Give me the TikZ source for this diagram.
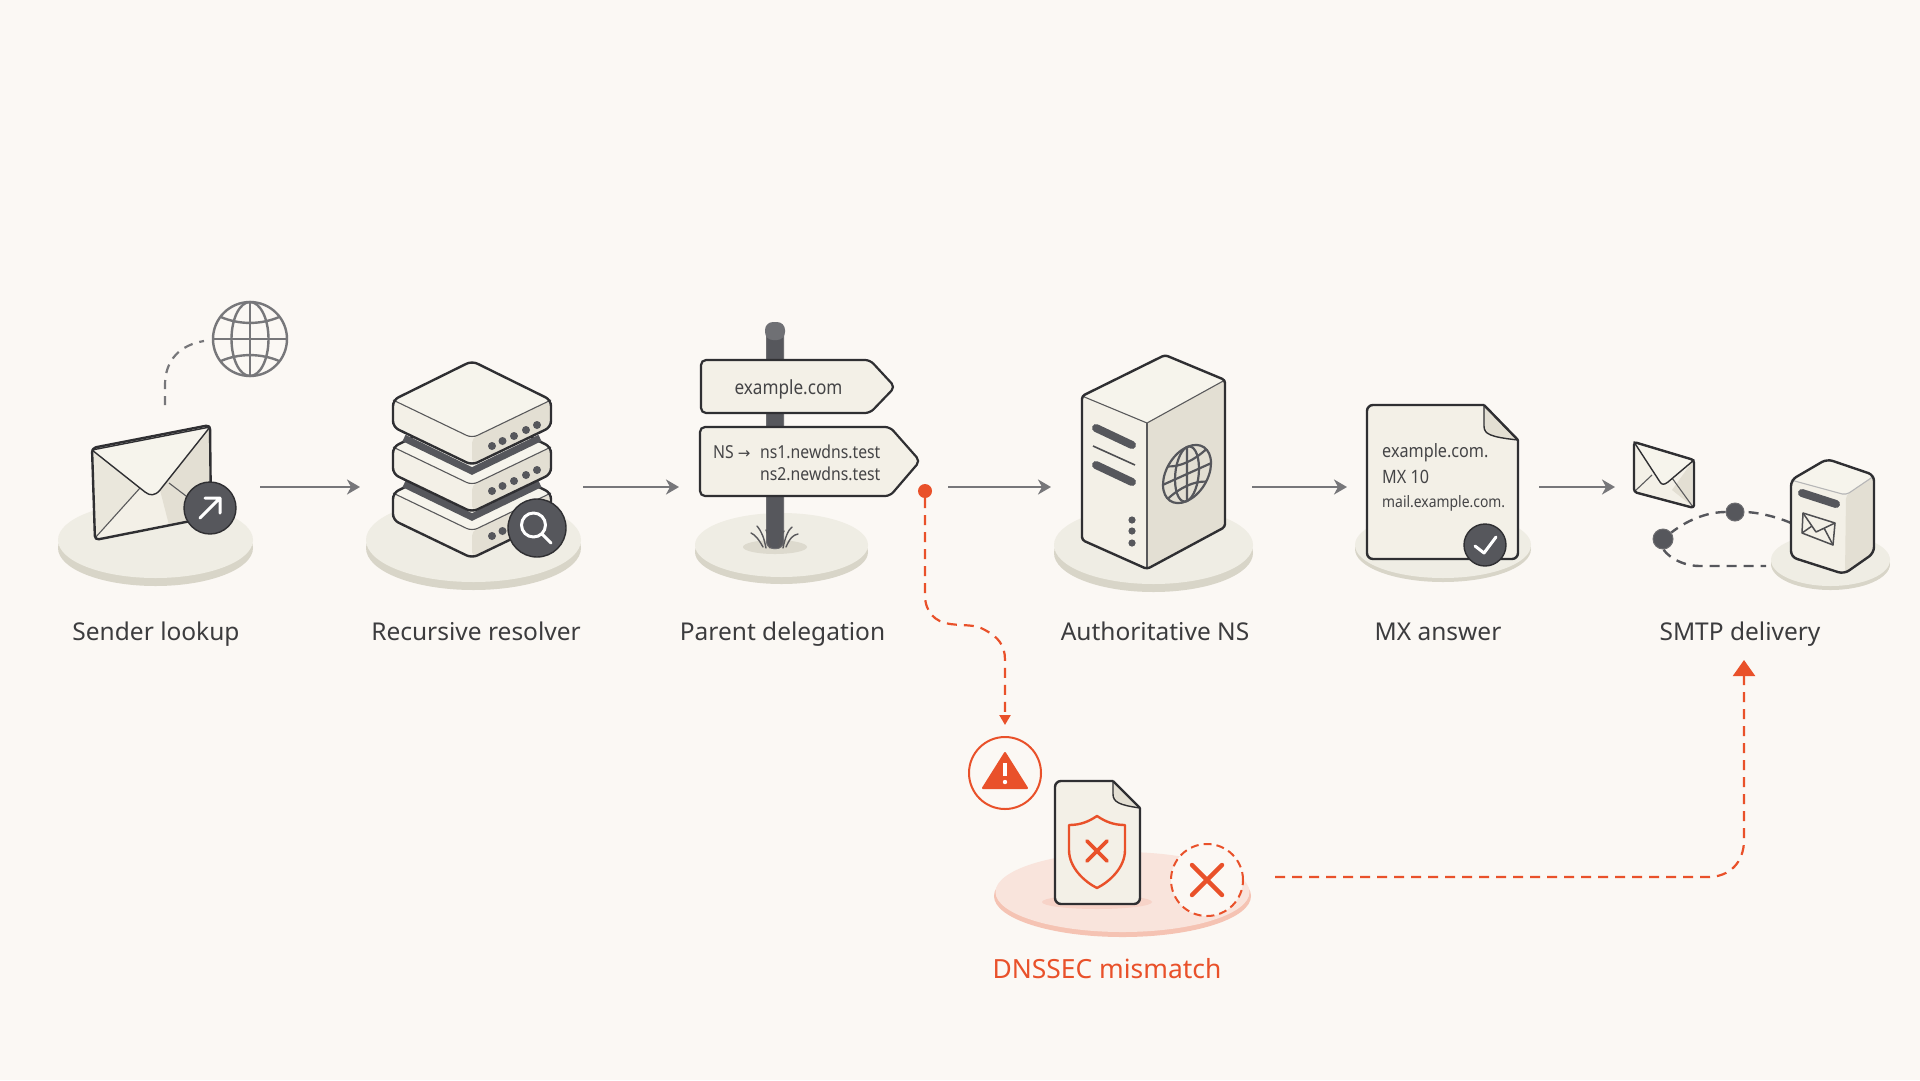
\documentclass[tikz,border=0pt]{standalone}
\usepackage{fontspec}
\setmainfont{Noto Sans}
\newfontfamily\arrowfont{DejaVu Sans}
\newfontfamily\narrowfont[FakeStretch=0.88]{Noto Sans}
\usetikzlibrary{arrows.meta}
\definecolor{bgc}{HTML}{FBF8F4}
\definecolor{discTop}{HTML}{EFEDE4}
\definecolor{discSide}{HTML}{D8D5C8}
\definecolor{faceL}{HTML}{F3F0E7}
\definecolor{faceR}{HTML}{E3DFD3}
\definecolor{faceT}{HTML}{F6F4EC}
\definecolor{ink}{HTML}{2F2F32}
\definecolor{darkc}{HTML}{56575C}
\definecolor{arrowc}{HTML}{77777A}
\definecolor{labelc}{HTML}{3C3C3E}
\definecolor{redc}{HTML}{E9512A}
\tikzset{
  outline/.style={draw=ink,line width=2.4pt,line join=round},
  thinline/.style={draw=ink!80,line width=1.1pt},
  softline/.style={draw=ink!35,line width=1.1pt},
  flowarrow/.style={draw=arrowc,line width=2.4pt,-{Stealth[length=13pt,width=15pt,inset=4pt]}},
  graydash/.style={draw=arrowc,line width=2.2pt,dash pattern=on 9pt off 7pt},
  darkdash/.style={draw=darkc,line width=2.4pt,dash pattern=on 10pt off 7pt},
  reddash/.style={draw=redc,line width=2.2pt,dash pattern=on 10pt off 7pt},
  steplabel/.style={font=\fontsize{24.5}{30}\selectfont,text=labelc,anchor=base,inner sep=0pt},
  signtext/.style={text=ink!90,inner sep=0pt,anchor=base},
  badge/.style={fill=darkc,draw=ink,line width=1.4pt},
  whitemark/.style={draw=white,line width=3pt,line cap=round,line join=round},
  redx/.style={draw=redc,line width=3.6pt,line cap=round},
  globeline/.style={draw=arrowc,line width=2.4pt},
}
\newcommand\platform[5]{% cx cy rx ry thick
  \fill[discSide] ({#1},{#2+#5}) ellipse [x radius=#3pt,y radius=#4pt];
  \fill[discTop] (#1,#2) ellipse [x radius=#3pt,y radius=#4pt];
}
\newcommand\slabbox[2]{% cx ytop
  \path[fill=faceL,rounded corners=6pt] ({#1-79},#2) -- (#1,{#2-39}) -- ({#1+79},#2) -- ({#1+79},{#2+27}) -- (#1,{#2+65}) -- ({#1-79},{#2+27}) -- cycle;
  \path[fill=faceR,rounded corners=5pt] (#1,{#2+38}) -- ({#1+78},{#2+1}) -- ({#1+78},{#2+27}) -- (#1,{#2+64}) -- cycle;
  \path[fill=faceT,rounded corners=6pt] ({#1-79},#2) -- (#1,{#2-39}) -- ({#1+79},#2) -- (#1,{#2+38}) -- cycle;
  \draw[thinline,rounded corners=6pt] ({#1-79},#2) -- (#1,{#2+38}) -- ({#1+79},#2);
  \draw[outline,rounded corners=6pt] ({#1-79},#2) -- (#1,{#2-39}) -- ({#1+79},#2) -- ({#1+79},{#2+27}) -- (#1,{#2+65}) -- ({#1-79},{#2+27}) -- cycle;
}
\newcommand\slabdots[1]{% y offset
  \foreach \dx/\dy in {492/446,502.5/441,514/436,526/430,537/425}
    \fill[darkc] (\dx,{\dy+#1}) circle [radius=4pt];
}
\newcommand\globeicon{%
  \draw (0,0) circle [radius=1];
  \draw (0,-1) -- (0,1) (-1,0) -- (1,0);
  \draw (0,0) ellipse [x radius=.5,y radius=1];
  \draw (-.8,-.6) .. controls (-.3,-.38) and (.3,-.38) .. (.8,-.6);
  \draw (-.8,.6) .. controls (-.3,.38) and (.3,.38) .. (.8,.6);
}
\newcommand\docpage[6]{% L T R B F G
  \path[fill=faceL,rounded corners=6pt] (#1,#2) -- (#5,#2) -- (#3,#6) -- (#3,#4) -- (#1,#4) -- cycle;
  \path[fill=faceR,draw=ink,line width=1.4pt,line join=round] (#5,#2) -- (#5,{#6-14}) .. controls (#5,{#6-6}) and ({#5+6},{#6-3}) .. (#3,#6) -- cycle;
  \draw[outline,rounded corners=6pt] (#5,#2) -- (#1,#2) -- (#1,#4) -- (#3,#4) -- (#3,#6);
  \draw[outline] (#5,#2) -- (#3,#6);
}
\begin{document}
\begin{tikzpicture}[x=1pt,y=-1pt]
\useasboundingbox (0,0) rectangle (1920,1080);
\fill[bgc] (0,0) rectangle (1920,1080);

% ---------- connector ends
\coordinate (a1s) at (260,487); \coordinate (a1e) at (360,487);
\coordinate (a2s) at (583,487); \coordinate (a2e) at (679,487);
\coordinate (a3s) at (948,487); \coordinate (a3e) at (1051,487);
\coordinate (a4s) at (1252,487); \coordinate (a4e) at (1347,487);
\coordinate (a5s) at (1539,487); \coordinate (a5e) at (1615,487);

% ---------- 1 Sender lookup
\platform{155.5}{540}{97.5}{38}{8}
\begin{scope}[globeline,shift={(250,339)},x=37pt,y=37pt]
  \globeicon
\end{scope}
\coordinate (g1) at (204,341);
\coordinate (e1) at (165,405);
\draw[graydash] (e1) -- (165,385) .. controls (165,360) and (180,345) .. (g1);
\path[fill=faceL,rounded corners=4pt] (92,448) -- (210,425) -- (211,517) -- (95,540) -- cycle;
\fill[faceR] (210,427) -- (211,517) -- (169,525) -- (160,490) -- cycle;
\fill[faceR!55!faceL] (92,450) -- (95,538) -- (140,488) -- cycle;
\draw[thinline] (95,538) -- (140,488);
\draw[thinline] (211,515) -- (169,483);
\path[fill=faceT,draw=ink,line width=1.4pt,line join=round] (92,450) -- (210,427) -- (160,490) .. controls (155,496) and (150,496) .. (145,492) -- cycle;
\draw[outline,rounded corners=4pt] (92,448) -- (210,425) -- (211,517) -- (95,540) -- cycle;
\node[circle,badge,minimum size=52pt,inner sep=0pt] (b1) at (210,508) {};
\draw[whitemark] (200,518) -- (220,498) (205,498) -- (220,498) -- (220,513);
\node[steplabel] (l1) at (156,640) {Sender lookup};

% ---------- 2 Recursive resolver
\platform{473.5}{540}{107.5}{42}{8}
\slabbox{472}{493}
\slabdots{90}
\draw[draw=darkc,line width=7pt] (404,484) -- (472,517) -- (540,484);
\slabbox{472}{447}
\slabdots{45}
\draw[draw=darkc,line width=7pt] (404,438) -- (472,471) -- (540,438);
\slabbox{472}{400}
\slabdots{0}
\node[circle,badge,minimum size=58pt,inner sep=0pt] (b2) at (537,528) {};
\draw[whitemark] (533.5,525) circle [radius=12pt] (542,534) -- (551,543);
\node[steplabel] (l2) at (476,640) {Recursive resolver};

% ---------- 3 Parent delegation
\platform{781.5}{545}{86.5}{32}{7}
\fill[discSide!80!discTop] (775,547) ellipse [x radius=32pt,y radius=7pt];
\draw[fill=darkc,draw=ink!70,line width=1pt] (766.5,330) -- (766.5,542) .. controls (766.5,551) and (783.5,551) .. (783.5,542) -- (783.5,330) -- cycle;
\draw[fill=darkc!85!white,draw=none,rounded corners=8pt] (765,340) -- (765,322) -- (785,322) -- (785,340) -- cycle;
\draw[ink!80,line width=1.4pt,line cap=round]
  (763,547) .. controls (758,538) and (755,535) .. (751,533)
  (766,548) .. controls (764,538) and (762,532) .. (757,526)
  (770,548) .. controls (770,540) and (769,536) .. (766,530)
  (786,547) .. controls (790,538) and (793,535) .. (798,534)
  (783,548) .. controls (785,538) and (788,530) .. (792,527)
  (779,548) .. controls (779,540) and (781,535) .. (784,531);
\path[fill=faceL,draw=ink,line width=2.2pt,rounded corners=5pt] (701,360) -- (870,360) -- (895,387) -- (870,413) -- (701,413) -- cycle;
\path[fill=faceL,draw=ink,line width=2.2pt,rounded corners=5pt] (700,427) -- (890,427) -- (920,461) -- (890,496) -- (700,496) -- cycle;
\node[signtext,font=\narrowfont\fontsize{19.5}{23}\selectfont] (s1) at (788.5,394) {example.com};
\node[signtext,anchor=base west,font=\narrowfont\fontsize{17.9}{22}\selectfont] (s2a) at (713,458) {NS {\arrowfont\fontsize{15}{18}\selectfont→}};
\node[signtext,anchor=base west,font=\narrowfont\fontsize{17.9}{22}\selectfont] (s2b) at (760,458) {ns1.newdns.test};
\node[signtext,anchor=base west,font=\narrowfont\fontsize{17.9}{22}\selectfont] (s2c) at (760,480) {ns2.newdns.test};
\node[steplabel] (l3) at (782.5,640) {Parent delegation};

% ---------- 4 Authoritative NS
\platform{1153.5}{545}{99.5}{39}{8}
\path[fill=faceL] (1082,396) -- (1147,423) -- (1147,569) -- (1082,540) -- cycle;
\path[fill=faceR] (1147,423) -- (1225,380) -- (1225,527) -- (1147,569) -- cycle;
\path[fill=faceT] (1082,396) -- (1165,355) -- (1225,380) -- (1147,423) -- cycle;
\draw[thinline] (1082,396) -- (1147,423) -- (1225,380);
\draw[thinline] (1147,423) -- (1147,569);
\draw[outline,rounded corners=3pt] (1082,396) -- (1165,355) -- (1225,380) -- (1225,527) -- (1147,569) -- (1082,540) -- cycle;
\draw[draw=darkc,line width=8pt,line cap=round] (1096,428) -- (1132,445);
\draw[draw=darkc,line width=8pt,line cap=round] (1096,465) -- (1132,482);
\draw[draw=ink!85,line width=1.6pt] (1093,446) -- (1135,465);
\foreach \dy in {520,531,543} \fill[darkc] (1132,\dy) circle [radius=3.6pt];
\begin{scope}[draw=darkc,line width=2.2pt,shift={(1187,474)},yslant=0.45,x=24pt,y=27pt]
  \globeicon
\end{scope}
\node[steplabel] (l4) at (1155,640) {Authoritative NS};

% ---------- 5 MX answer
\platform{1443}{545}{88}{33}{4}
\docpage{1367}{405}{1518}{559}{1484}{440}
\node[signtext,anchor=base west,font=\narrowfont\fontsize{18.4}{22}\selectfont] (m1) at (1382,457) {example.com.};
\node[signtext,anchor=base west,font=\narrowfont\fontsize{18.4}{22}\selectfont] (m2) at (1382,483) {MX 10};
\node[signtext,anchor=base west,font=\narrowfont\fontsize{15.8}{20}\selectfont] (m3) at (1382,507) {mail.example.com.};
\node[circle,badge,minimum size=42pt,inner sep=0pt] (b5) at (1485,545) {};
\draw[whitemark] (1475,546) -- (1484,553) -- (1496,537);
\node[steplabel] (l5) at (1438,640) {MX answer};

% ---------- 6 SMTP delivery
\platform{1830.5}{560}{59.5}{26}{4}
\path[fill=faceL,rounded corners=4pt] (1634,442) -- (1694,460) -- (1694,508) -- (1634,492) -- cycle;
\fill[faceR] (1692,462) -- (1692,506) -- (1672,490) -- cycle;
\draw[thinline] (1635,491) -- (1652,475) (1693,507) -- (1672,478);
\path[fill=faceT,draw=ink,line width=1.4pt,line join=round] (1634,442) -- (1694,460) -- (1668,482) .. controls (1664,485) and (1662,485) .. (1660,482) -- cycle;
\draw[outline,rounded corners=3pt] (1634,442) -- (1694,460) -- (1694,508) -- (1634,492) -- cycle;
\node[circle,fill=darkc,draw=ink!70,line width=1pt,minimum size=18pt,inner sep=0pt] (d1) at (1735,512) {};
\node[circle,fill=darkc,draw=ink!70,line width=1pt,minimum size=20pt,inner sep=0pt] (d2) at (1663,539) {};
\coordinate (mb1) at (1791,523); \coordinate (mb2) at (1766,566);
\draw[darkdash] (mb1) .. controls (1775,516) and (1755,512) .. (d1);
\draw[darkdash] (d1) .. controls (1710,512) and (1690,518) .. (d2);
\draw[darkdash] (d2) .. controls (1664,552) and (1678,566) .. (1700,566) -- (mb2);
\path[fill=faceL,rounded corners=6pt] (1791,480) -- (1827,459) -- (1874,475) -- (1874,553) -- (1844,574) -- (1791,557) -- cycle;
\path[fill=faceR,rounded corners=4pt] (1846,495) -- (1874,476) -- (1874,553) -- (1845,573) -- cycle;
\path[fill=faceT,rounded corners=6pt] (1791,480) -- (1827,459) -- (1874,475) -- (1846,495) -- cycle;
\draw[softline,rounded corners=4pt] (1791,480) -- (1846,495) -- (1874,476);
\draw[outline,rounded corners=6pt] (1791,480) -- (1827,459) -- (1874,475) -- (1874,553) -- (1844,574) -- (1791,557) -- cycle;
\draw[draw=darkc,line width=8pt,line cap=round] (1802,493) -- (1836,504);
\draw[draw=ink!85,line width=1.5pt,line join=round] (1803,513) -- (1835,523) -- (1833,545) -- (1802,533) -- cycle;
\draw[draw=ink!85,line width=1.5pt,line join=round] (1803,513) -- (1816,532) -- (1835,523) (1802,533) -- (1812,526) (1833,545) -- (1824,528);
\node[steplabel] (l6) at (1740,640) {SMTP delivery};

% ---------- main arrows
\draw[flowarrow] (a1s) -- (a1e);
\draw[flowarrow] (a2s) -- (a2e);
\draw[flowarrow] (a3s) -- (a3e);
\draw[flowarrow] (a4s) -- (a4e);
\draw[flowarrow] (a5s) -- (a5e);

% ---------- DNSSEC mismatch
\fill[redc!32!bgc] (1122.5,896) ellipse [x radius=128.5pt,y radius=41pt];
\fill[redc!12!bgc] (1122.5,892) ellipse [x radius=127pt,y radius=40pt];
\fill[redc!22!bgc] (1097,902) ellipse [x radius=55pt,y radius=7pt];
\docpage{1055}{781}{1140}{904}{1113}{808}
\draw[draw=redc,line width=2.4pt,line join=round] (1097,816) .. controls (1088,822) and (1080,825) .. (1069,825) -- (1069,850) .. controls (1069,868) and (1085,882) .. (1097,888) .. controls (1109,882) and (1125,868) .. (1125,850) -- (1125,825) .. controls (1114,825) and (1106,822) .. (1097,816) -- cycle;
\draw[redx] (1087,841) -- (1107,861) (1107,841) -- (1087,861);
\node[circle,draw=redc,line width=2pt,fill=bgc,minimum size=72pt,inner sep=0pt] (warn) at (1005,773) {};
\path[fill=redc,draw=redc,line width=2pt,line join=round] (1005,753) -- (1027,788) -- (983,788) -- cycle;
\draw[draw=white,line width=3.4pt] (1005,763) -- (1005,776);
\fill[white] (1005,782) circle [radius=2.2pt];
\node[circle,fill=bgc,minimum size=72pt,inner sep=0pt] (xc) at (1207,880) {};
\draw[reddash,line width=2pt,dash pattern=on 8pt off 5pt] (xc.center) circle [radius=36pt];
\draw[redx,line width=4.4pt] (1192,865) -- (1222,895) (1222,865) -- (1192,895);
\node[steplabel,text=redc,font=\fontsize{26.4}{30}\selectfont] (l7) at (1107,978) {DNSSEC mismatch};

% ---------- red connectors
\node[circle,fill=redc,minimum size=14pt,inner sep=0pt] (rd) at (925,491) {};
\coordinate (wtip) at (1005,725);
\coordinate (x1) at (1275,877);
\coordinate (stip) at (1744,660);
\draw[reddash,-{Triangle[length=10pt,width=11pt]}] (rd) -- (925,595) .. controls (925,612) and (935,622) .. (950,624) .. controls (965,626) and (975,624) .. (985,630) .. controls (998,637) and (1005,645) .. (1005,660) -- (wtip);
\draw[reddash,-{Triangle[length=16pt,width=22pt]}] (x1) -- (1708,877) .. controls (1730,877) and (1744,862) .. (1744,840) -- (stip);
\end{tikzpicture}
\end{document}
